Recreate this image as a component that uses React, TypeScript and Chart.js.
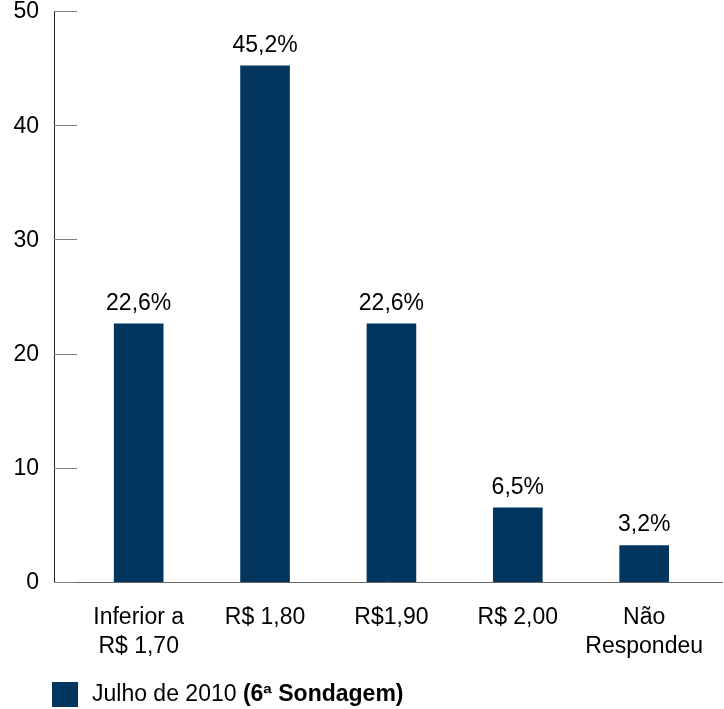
import React, { useEffect, useRef } from "react";
import { Chart, registerables } from "chart.js";

Chart.register(...registerables);

const categories: string[][] = [["Inferior a", "R$ 1,70"], ["R$ 1,80"], ["R$1,90"], ["R$ 2,00"], ["Não", "Respondeu"]];
const values: number[] = [22.6, 45.2, 22.6, 6.5, 3.2];
const valueLabels: string[] = ["22,6%", "45,2%", "22,6%", "6,5%", "3,2%"];
const yTicks: number[] = [0, 10, 20, 30, 40, 50];
const legendNormal = "Julho de 2010 ";
const legendBold = "(6ª Sondagem)";

const FONT = "'Liberation Sans', Arial, sans-serif";
const BAR = "#03365f";
const FS = 23;

export default function App() {
  const ref = useRef<HTMLCanvasElement | null>(null);

  useEffect(() => {
    if (!ref.current) return;

    const yAxisDecor = {
      id: "yAxisDecor",
      afterDraw(chart: any) {
        const ctx = chart.ctx;
        const y = chart.scales.y;
        const left = chart.chartArea.left;
        ctx.save();
        ctx.strokeStyle = "#7f7f7f";
        ctx.lineWidth = 1;
        yTicks.forEach((v) => {
          const py = Math.round(y.getPixelForValue(v)) + 0.5;
          ctx.beginPath();
          ctx.moveTo(left, py);
          ctx.lineTo(left + 23, py);
          ctx.stroke();
        });
        ctx.fillStyle = "#000";
        ctx.font = `${FS}px ${FONT}`;
        ctx.textAlign = "right";
        ctx.textBaseline = "middle";
        yTicks.forEach((v) => {
          ctx.fillText(String(v), left - 15, y.getPixelForValue(v) + 1);
        });
        ctx.restore();
      },
    };

    const dataLabels = {
      id: "dataLabels",
      afterDatasetsDraw(chart: any) {
        const ctx = chart.ctx;
        const meta = chart.getDatasetMeta(0);
        ctx.save();
        ctx.font = `${FS}px ${FONT}`;
        ctx.fillStyle = "#000";
        ctx.textAlign = "center";
        ctx.textBaseline = "alphabetic";
        meta.data.forEach((bar: any, i: number) => {
          ctx.fillText(valueLabels[i], bar.x, bar.y - 14);
        });
        ctx.restore();
      },
    };

    const customLegend = {
      id: "customLegend",
      afterDraw(chart: any) {
        const ctx = chart.ctx;
        const top = chart.height - 27;
        ctx.save();
        ctx.fillStyle = BAR;
        ctx.fillRect(52, top, 26, 25);
        ctx.fillStyle = "#000";
        ctx.textBaseline = "middle";
        ctx.textAlign = "left";
        ctx.font = `${FS}px ${FONT}`;
        const tx = 92;
        const ty = top + 13;
        ctx.fillText(legendNormal, tx, ty);
        const w = ctx.measureText(legendNormal).width;
        ctx.font = `bold ${FS}px ${FONT}`;
        ctx.fillText(legendBold, tx + w, ty);
        ctx.restore();
      },
    };

    const chart = new Chart(ref.current, {
      type: "bar",
      data: {
        datasets: [
          {
            label: legendNormal + legendBold,
            data: values.map((v, i) => ({ x: i, y: v })),
            backgroundColor: BAR,
            borderWidth: 0,
            barThickness: 49,
          },
        ],
      },
      options: {
        animation: false,
        responsive: false,
        maintainAspectRatio: false,
        layout: { padding: { left: 0, right: 0, top: 11, bottom: 27 } },
        plugins: {
          legend: { display: false },
          tooltip: { enabled: false },
        },
        scales: {
          x: {
            type: "linear",
            offset: false,
            min: -0.67,
            max: 4.62,
            afterBuildTicks: (axis: any) => {
              axis.ticks = categories.map((_, i) => ({ value: i }));
            },
            ticks: {
              autoSkip: false,
              maxRotation: 0,
              padding: 21,
              color: "#000",
              font: { family: FONT, size: FS, lineHeight: 1.26 },
              callback: (v: any) => categories[v as number],
            },
            grid: { display: false, drawTicks: false },
            border: { display: true, color: "#666666", width: 1 },
          },
          y: {
            min: 0,
            max: 50,
            afterBuildTicks: (axis: any) => {
              axis.ticks = yTicks.map((v) => ({ value: v }));
            },
            afterFit: (axis: any) => {
              axis.width = 54;
            },
            ticks: { display: false },
            grid: { display: false, drawTicks: false },
            border: { display: true, color: "#222222", width: 1 },
          },
        },
      },
      plugins: [yAxisDecor, dataLabels, customLegend],
    });

    return () => chart.destroy();
  }, []);

  return (
    <div style={{ position: "absolute", left: 0, top: 0, width: 724, height: 709, background: "#fff" }}>
      <canvas ref={ref} width={724} height={709} style={{ display: "block" }} />
    </div>
  );
}
